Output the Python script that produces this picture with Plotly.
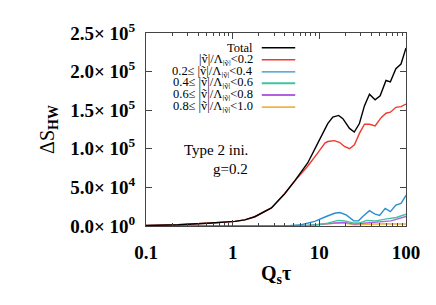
import plotly.graph_objects as go

# ---- data ----
x_total = [0.1, 0.235, 0.57, 1.06, 1.38, 1.80, 2.80, 3.98, 5.20, 7.37, 9.60, 11.6, 12.5, 14.3, 16.7, 18.7,
           22.3, 25.3, 29.0, 33.2, 37.9, 44.0, 50.3, 58.8, 66.0, 76.4, 87.6, 100]
y_total = [630, 1650, 3800, 5960, 8000, 12000, 23500, 41800, 58500, 82000, 107400, 126400, 132700, 141100,
           143200, 139000, 126400, 121700, 132700, 155900, 170700, 163500, 168600, 188500, 186700, 203700,
           209800, 230700]

x_r1 = [0.1, 0.235, 0.57, 1.06, 1.38, 1.80, 2.80, 3.98, 5.20, 7.37, 9.60, 11.6, 12.5, 15.0, 17.2, 19.5,
        22.3, 25.4, 29.0, 33.2, 37.9, 44.0, 51.6, 58.8, 66.0, 76.4, 87.6, 100]
y_r1 = [630, 1650, 3800, 5960, 8000, 12000, 23500, 41800, 58300, 77700, 94700, 107400, 109400, 110600,
        108100, 103000, 100100, 105200, 120000, 131800, 131800, 129700, 140300, 146100, 147400, 153700,
        154600, 158000]

x_r2 = [0.1, 1.0, 3.0, 4.5, 6.2, 8.85, 12.0, 15.0, 17.2, 20.4, 25.0, 28.3, 31.7, 37.9, 43.4, 49.6, 57.6,
        66.0, 76.4, 87.6, 100]
y_r2 = [0, 20, 150, 500, 1650, 5960, 12300, 16500, 17400, 14300, 6700, 6700, 12300, 19900, 15600, 13600,
        22800, 18600, 27000, 29200, 39700]

x_r3 = [0.1, 1.0, 3.0, 6.0, 8.85, 12.5, 16.4, 19.5, 25.4, 29.0, 35.2, 44.7, 59.5, 77.5, 100]
y_r3 = [0, 10, 80, 300, 1200, 3800, 7200, 6700, 3800, 3800, 7200, 6700, 9300, 11000, 15200]

x_r4 = [0.1, 1.0, 3.0, 7.4, 15.0, 19.5, 25.4, 33.2, 44.7, 67.0, 100]
y_r4 = [0, 10, 60, 800, 3800, 4700, 2500, 3800, 4700, 6700, 12300]

x_r5 = [0.1, 1.0, 3.0, 7.4, 15.0, 19.5, 25.4, 35.2, 55.0, 100]
y_r5 = [0, 10, 60, 700, 3400, 3800, 1650, 2500, 2900, 2500]

series_names = ["Total",
                "|ṽ|/Λ<sub>|ṽ|</sub>&lt;0.2",
                "0.2≤ |ṽ|/Λ<sub>|ṽ|</sub>&lt;0.4",
                "0.4≤ |ṽ|/Λ<sub>|ṽ|</sub>&lt;0.6",
                "0.6≤ |ṽ|/Λ<sub>|ṽ|</sub>&lt;0.8",
                "0.8≤ |ṽ|/Λ<sub>|ṽ|</sub>&lt;1.0"]
series_x = [x_total, x_r1, x_r2, x_r3, x_r4, x_r5]
series_y = [y_total, y_r1, y_r2, y_r3, y_r4, y_r5]
series_colors = ["#000000", "#ee3a2c", "#2a8fce", "#40c49c", "#b060e0", "#f0b444"]

y_tickvals = [0, 50000, 100000, 150000, 200000, 250000]
y_ticktext = ["0.0× 10<sup>0</sup>", "5.0× 10<sup>4</sup>", "1.0× 10<sup>5</sup>",
              "1.5× 10<sup>5</sup>", "2.0× 10<sup>5</sup>", "2.5× 10<sup>5</sup>"]
x_tickvals = [0.1, 1, 10, 100]
x_ticktext = ["0.1", "1", "10", "100"]
x_minor = [0.2, 0.3, 0.4, 0.5, 0.6, 0.7, 0.8, 0.9, 2, 3, 4, 5, 6, 7, 8, 9,
           20, 30, 40, 50, 60, 70, 80, 90]

FONT = "Liberation Serif, Times New Roman, serif"

# plot area in pixels (from the reference)
PL, PR, PT, PB = 138.0, 398.5, 21.0, 218.0


def px(xp):
    return (xp - PL) / (PR - PL)


def py(yp):
    return (PB - yp) / (PB - PT)


fig = go.Figure()
for name, xs, ys, col in list(zip(series_names, series_x, series_y, series_colors))[::-1]:
    fig.add_trace(go.Scatter(x=xs, y=ys, mode="lines", name=name,
                             line=dict(color=col, width=1.4), showlegend=False))

# manual legend: right-aligned text with line sample to the right
legend_y = [36, 48.3, 60.7, 72.3, 84.3, 96.7]
for name, col, yy in zip(series_names, series_colors, legend_y):
    fig.add_annotation(xref="paper", yref="paper", x=px(247.5), y=py(yy), text=name,
                       showarrow=False, xanchor="right", yanchor="middle", height=12,
                       font=dict(family=FONT, size=12.5, color="#000"))
    fig.add_shape(type="line", xref="paper", yref="paper",
                  x0=px(254), x1=px(287.5), y0=py(yy), y1=py(yy),
                  line=dict(color=col, width=1.4 if col in ("#000000", "#ee3a2c", "#2a8fce") else 1.8))

fig.add_annotation(xref="paper", yref="paper", x=px(242), y=py(140), text="Type 2 ini.",
                   showarrow=False, xanchor="right", yanchor="middle",
                   font=dict(family=FONT, size=15, color="#000"))
fig.add_annotation(xref="paper", yref="paper", x=px(242), y=py(160), text="g=0.2",
                   showarrow=False, xanchor="right", yanchor="middle",
                   font=dict(family=FONT, size=15, color="#000"))

fig.update_layout(
    width=436, height=305,
    margin=dict(l=PL, r=436 - PR, t=PT, b=305 - PB),
    paper_bgcolor="white", plot_bgcolor="white",
    font=dict(family=FONT, color="#000"),
    showlegend=False,
)
fig.update_xaxes(
    type="log", range=[-1, 2], tickvals=x_tickvals, ticktext=x_ticktext,
    ticks="inside", ticklen=6, tickcolor="#444", showgrid=False, zeroline=False,
    showline=True, linecolor="#444", linewidth=1, mirror="ticks",
    tickfont=dict(family=FONT, size=19, color="#000", weight="bold"),
    ticklabelstandoff=9,
    minor=dict(tickvals=x_minor, ticks="inside", ticklen=3, tickcolor="#444", showgrid=False),
    title=dict(text="<b>Q<sub>s</sub>τ</b>", font=dict(family=FONT, size=20, color="#000"), standoff=4),
)
fig.update_yaxes(
    range=[0, 250000], tickvals=y_tickvals, ticktext=y_ticktext,
    ticks="inside", ticklen=6, tickcolor="#444", showgrid=False, zeroline=False,
    showline=True, linecolor="#444", linewidth=1, mirror="ticks",
    tickfont=dict(family=FONT, size=19, color="#000", weight="bold"),
    ticklabelstandoff=6,
    title=dict(text="ΔS<sub><b>HW</b></sub>", font=dict(family=FONT, size=20, color="#000"), standoff=10),
)

fig.write_html("out.html")
